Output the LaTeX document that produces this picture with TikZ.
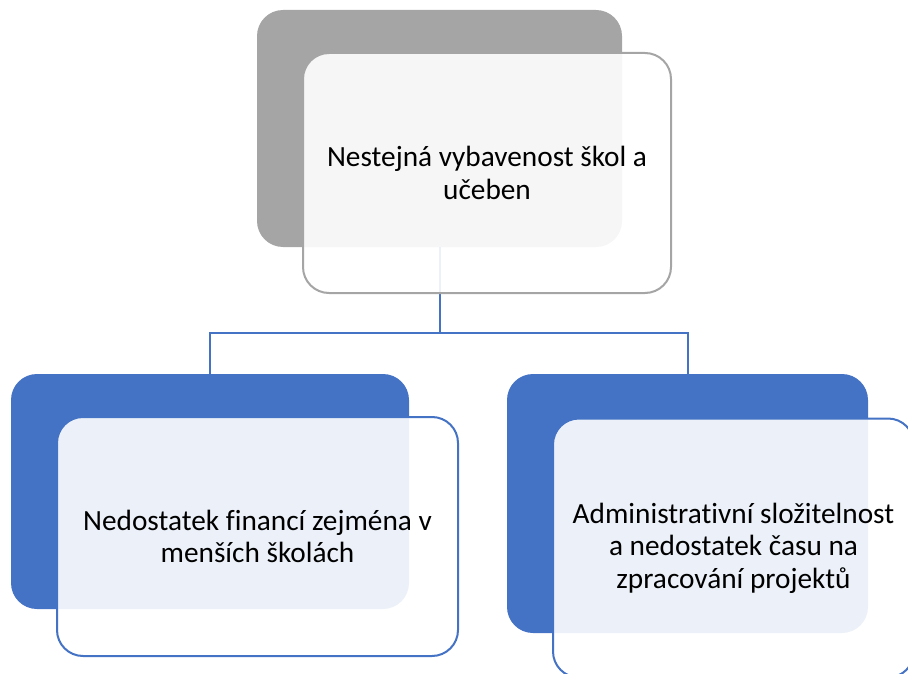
\documentclass[tikz,border=0pt]{standalone}
\usepackage{fontspec}
\setmainfont{Carlito}[Ligatures={NoCommon}]
\definecolor{accblue}{HTML}{4472C4}
\definecolor{accgray}{HTML}{A5A5A5}
\begin{document}
\begin{tikzpicture}[x=1pt,y=-1pt,
  backbox/.style={rectangle, rounded corners=26pt, draw=none, inner sep=0pt, anchor=center},
  frontbox/.style={rectangle, rounded corners=26pt, line width=2pt, fill=white, fill opacity=0.9, text opacity=1, inner sep=0pt, align=center, font=\fontsize{29.3}{32.5}\selectfont},
  conn/.style={draw=accblue, line width=2pt}]
\useasboundingbox (0,0) rectangle (908,674);
% back boxes
\node[backbox, fill=accgray, minimum width=365pt, minimum height=237pt] (topback) at (439.5,128.5) {};
\node[backbox, fill=accblue, minimum width=398pt, minimum height=235pt] (leftback) at (210,491.5) {};
\node[backbox, fill=accblue, minimum width=361pt, minimum height=259pt] (rightback) at (687.5,503.5) {};
% connectors
\coordinate (junction) at (439.5,333);
\draw[conn] (topback.south) -- (junction) -| (leftback.north);
\draw[conn] (junction) -| (rightback.north);
% front boxes
\node[frontbox, draw=accgray, minimum width=368pt, minimum height=240pt] (topfront) at (487,173) {Nestejná vybavenost škol a\\učeben};
\node[frontbox, draw=accblue, minimum width=401pt, minimum height=239pt] (leftfront) at (257.5,536.5) {Nedostatek financí zejména v\\menších školách};
\node[frontbox, draw=accblue, minimum width=361pt, minimum height=259pt] (rightfront) at (733.5,548) {Administrativní složitelnost\\a nedostatek času na\\zpracování projektů};
\end{tikzpicture}
\end{document}
